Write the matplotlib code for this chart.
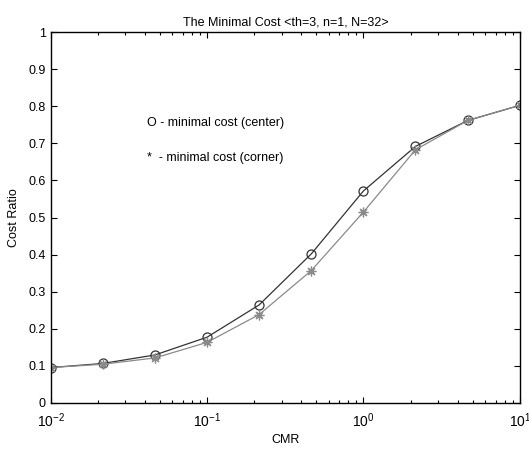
import numpy as np
import matplotlib
matplotlib.use('Agg')
import matplotlib.pyplot as plt

plt.rcParams['font.family'] = ['Liberation Sans', 'DejaVu Sans']
plt.rcParams['mathtext.fontset'] = 'custom'
plt.rcParams['mathtext.rm'] = 'Liberation Sans'
plt.rcParams['mathtext.it'] = 'Liberation Sans'
plt.rcParams['mathtext.default'] = 'regular'

cmr = [0.01, 0.0215, 0.0464, 0.1, 0.215, 0.464, 1.0, 2.15, 4.64, 10.0]
cost_center = [0.095, 0.106, 0.129, 0.177, 0.264, 0.402, 0.572, 0.692, 0.762, 0.803]
cost_corner = [0.095, 0.104, 0.121, 0.163, 0.238, 0.357, 0.515, 0.683, 0.762, 0.803]

fig = plt.figure(figsize=(5.29, 4.49), dpi=100)
ax = fig.add_axes([0.0958, 0.103, 0.887, 0.825])

ax.plot(cmr, cost_center, color='#333333', lw=0.9, marker='o',
        markersize=6.5, markerfacecolor='none', markeredgecolor='#333333',
        markeredgewidth=0.9)
# asterisk marker like matlab '*'
ax.plot(cmr, cost_corner, color='#8a8a8a', lw=0.9, marker=(8, 2, 0),
        markersize=7, markeredgecolor='#8a8a8a', markeredgewidth=0.9)

ax.set_xscale('log')
ax.set_xlim(0.01, 10)
ax.set_ylim(0, 1)
ax.set_yticks(np.arange(0, 1.01, 0.1))
ax.set_yticklabels(['0', '0.1', '0.2', '0.3', '0.4', '0.5', '0.6', '0.7',
                    '0.8', '0.9', '1'])
ax.set_xticks([0.01, 0.1, 1, 10])
ax.set_xticklabels(['$10^{-2}$', '$10^{-1}$', '$10^{0}$', '$10^{1}$'])

ax.tick_params(which='both', direction='in', top=True, right=True,
               labelsize=9, width=0.8)
ax.tick_params(which='major', length=4)
ax.tick_params(which='minor', length=2)
ax.tick_params(axis='x', labelsize=10, pad=6)
for sp in ax.spines.values():
    sp.set_linewidth(1.0)

ax.set_title('The Minimal Cost <th=3, n=1, N=32>', fontsize=9, pad=5)
ax.set_xlabel('CMR', fontsize=9, labelpad=3)
ax.set_ylabel('Cost Ratio', fontsize=9, labelpad=6)

ax.text(0.205, 0.755, 'O - minimal cost (center)', transform=ax.transAxes,
        fontsize=9, va='center')
ax.text(0.205, 0.661, '*  - minimal cost (corner)', transform=ax.transAxes,
        fontsize=9, va='center')

fig.savefig('out.png', dpi=100)
